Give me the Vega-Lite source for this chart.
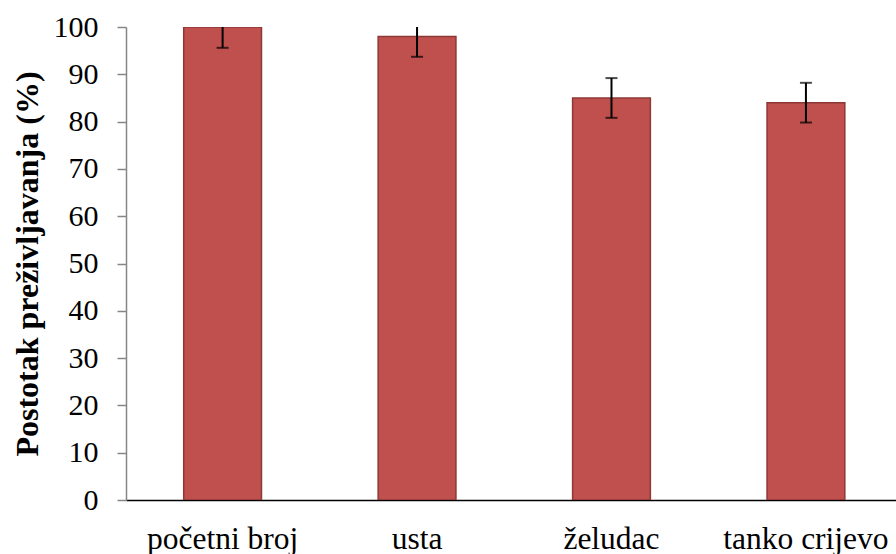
{
  "$schema": "https://vega.github.io/schema/vega-lite/v6.json",
  "width": 770,
  "height": 473,
  "autosize": "none",
  "padding": {"left": 126, "top": 27, "right": 0, "bottom": 54},
  "background": "white",
  "config": {
    "view": {"stroke": null},
    "font": "Liberation Serif"
  },
  "data": {
    "values": [
      {"kategorija": "početni broj", "postotak": 100, "donja": 95.6, "gornja": 104.4},
      {"kategorija": "usta", "postotak": 98, "donja": 93.7, "gornja": 102.3},
      {"kategorija": "želudac", "postotak": 85, "donja": 80.8, "gornja": 89.2},
      {"kategorija": "tanko crijevo", "postotak": 84, "donja": 79.8, "gornja": 88.2}
    ]
  },
  "encoding": {
    "x": {
      "field": "kategorija",
      "type": "nominal",
      "sort": null,
      "scale": {"paddingInner": 0.6, "paddingOuter": 0.28, "align": 0.53},
      "axis": {
        "title": null,
        "labelAngle": 0,
        "ticks": false,
        "domainColor": "black",
        "domainWidth": 1.5,
        "labelFont": "Liberation Serif",
        "labelFontSize": 31.5,
        "labelColor": "black",
        "labelPadding": 23,
        "grid": false
      }
    }
  },
  "layer": [
    {
      "mark": {"type": "bar", "color": "#C0504D", "stroke": "#8C3836", "strokeWidth": 1.5, "clip": true},
      "encoding": {
        "y": {
          "field": "postotak",
          "type": "quantitative",
          "scale": {"domain": [0, 100], "nice": false},
          "axis": {
            "title": "Postotak preživljavanja (%)",
            "titleFont": "Liberation Serif",
            "titleFontSize": 32,
            "titleFontWeight": "bold",
            "titleColor": "black",
            "titlePadding": 9,
            "values": [0, 10, 20, 30, 40, 50, 60, 70, 80, 90, 100],
            "domainColor": "#868686",
            "domainWidth": 1.5,
            "tickColor": "#868686",
            "tickWidth": 1.5,
            "tickSize": 9,
            "labelFont": "Liberation Serif",
            "labelFontSize": 30,
            "labelColor": "black",
            "labelPadding": 19,
            "grid": false
          }
        }
      }
    },
    {
      "mark": {"type": "rule", "color": "black", "strokeWidth": 2, "clip": true},
      "encoding": {
        "y": {"field": "donja", "type": "quantitative"},
        "y2": {"field": "gornja"}
      }
    },
    {
      "mark": {"type": "tick", "color": "black", "thickness": 2, "size": 12, "clip": true},
      "encoding": {
        "y": {"field": "donja", "type": "quantitative"}
      }
    },
    {
      "mark": {"type": "tick", "color": "black", "thickness": 2, "size": 12, "clip": true},
      "encoding": {
        "y": {"field": "gornja", "type": "quantitative"}
      }
    }
  ]
}
